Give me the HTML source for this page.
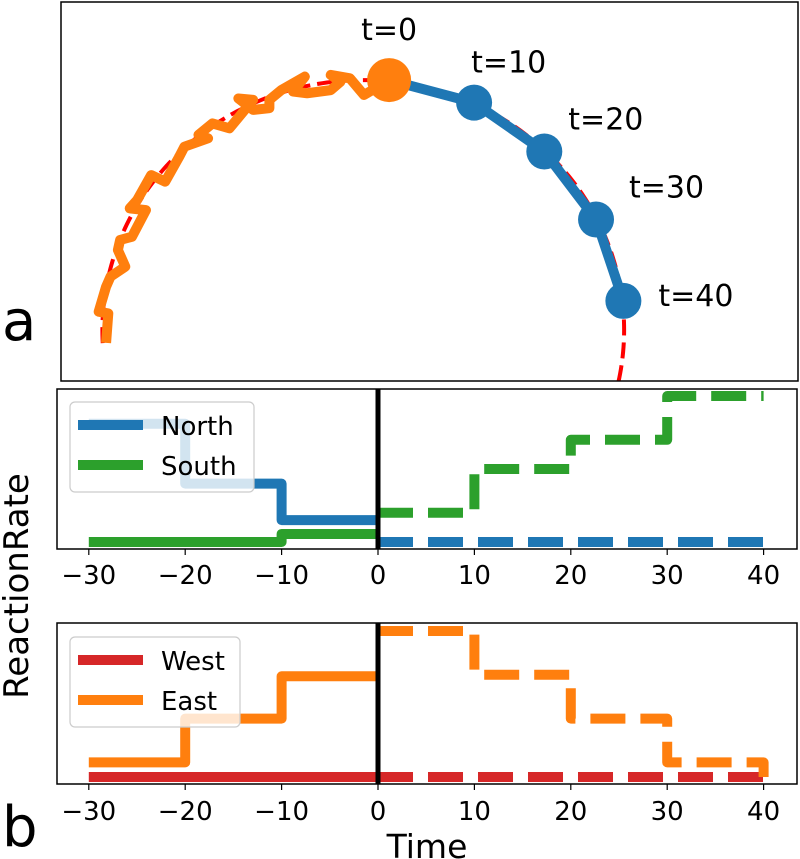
<!DOCTYPE html>
<html><head><meta charset="utf-8"><style>
html,body{margin:0;padding:0;background:#fff;}
svg{display:block;font-family:"DejaVu Sans","Liberation Sans",sans-serif;}
</style></head><body>
<svg id="fig" width="800" height="859" viewBox="0 0 800 859" xmlns="http://www.w3.org/2000/svg">
<defs>
<clipPath id="clipTop"><rect x="61" y="2" width="737" height="379"/></clipPath>
<clipPath id="clipMid"><rect x="57" y="389" width="740" height="160"/></clipPath>
<clipPath id="clipBot"><rect x="57" y="623" width="740" height="161"/></clipPath>
</defs>
<rect x="0" y="0" width="800" height="859" fill="#fff"/>
<g id="topPanel"></g>
<g id="midPanel"></g>
<g id="botPanel"></g>
<text x="2" y="340" font-size="56" fill="#000">a</text>
<text x="2" y="846" font-size="56" fill="#000">b</text>
<text x="427" y="858" font-size="33" text-anchor="middle" fill="#000">Time</text>
<text transform="translate(28,586) rotate(-90)" font-size="34" text-anchor="middle" fill="#000">ReactionRate</text>
</svg>
<script>
// ---- top panel data (arbitrary unit coords 0..100) ----
const orangeX = [44.4,41,39.1,36.5,37.8,36.5,33.3,31.4,33,29.8,28.2,28.2,26,24,26,22.8,20.5,18.6,19.9,16.7,16,14.1,12.2,10.3,9.3,11.5,9.6,8,7.7,8.7,6.7,6.1,5.1,6.4,6.1];
const orangeY = [76.9,72.6,77.4,78.4,76.4,74,73.1,73.6,77.9,74,71.2,68.8,68.3,71.6,71.2,63,64.4,61.1,60.1,57.7,54.8,47.6,49.5,42.3,39.9,39.4,31.7,30.8,27.9,23.1,20.2,17.3,10.1,9.6,1.1];
const blueX = [44.4,55.9,65.4,72.4,76.1];
const blueY = [76.9,70.4,56.3,36.7,13.2];
const blueLabels = ["t=0","t=10","t=20","t=30","t=40"];
const circleC = [40.9,4.8];
const circleR = [35.3,72.1];
const arcAngles = [183,-20];
// ---- step panels data ----
const tSolid = [-30,-20,-10,0];
const tDashed = [0,10,20,30,40];
const northSolid = [81,40,15,15];
const northDashed = [0,0,0,0,0];
const southSolid = [0,0,5.5,5.5];
const southDashed = [20,50,70,100,100];
const westSolid = [0,0,0,0];
const westDashed = [0,0,0,0,0];
const eastSolid = [10,40,69,69];
const eastDashed = [100,70,40,10,0];
const xTicks = [-30,-20,-10,0,10,20,30,40];
const xTickLabels = ["\u221230","\u221220","\u221210","0","10","20","30","40"];

const NS="http://www.w3.org/2000/svg";
function mk(tag, attrs, parent){const e=document.createElementNS(NS,tag);for(const k in attrs)e.setAttribute(k,attrs[k]);parent.appendChild(e);return e;}

const tx = v => 61 + v*7.39;
const ty = v => (100-v)*3.467;
const topG = document.getElementById('topPanel');
const gTop = mk('g',{'clip-path':'url(#clipTop)'},topG);
let arcPts=[];
for(let a=arcAngles[0]; a>=arcAngles[1]; a-=1){
  const r=a*Math.PI/180;
  arcPts.push(tx(circleC[0]+circleR[0]*Math.cos(r))+','+ty(circleC[1]+circleR[1]*Math.sin(r)));
}
const ell = mk('polyline',{points:arcPts.join(' '),fill:'none',stroke:'#ff0000','stroke-width':4,'stroke-dasharray':'16 7'},gTop);


const op = mk('polyline',{points:orangeX.map((v,i)=>tx(v)+','+ty(orangeY[i])).join(' '),fill:'none',stroke:'#ff7f0e','stroke-width':10,'stroke-linejoin':'round','stroke-linecap':'butt'},gTop);


const bp = mk('polyline',{points:blueX.map((v,i)=>tx(v)+','+ty(blueY[i])).join(' '),fill:'none',stroke:'#1f77b4','stroke-width':10,'stroke-linejoin':'round'},gTop);


const lblDx=[0,-3,24,33,35], lblDy=[-40,-30,-22,-22,5];
blueX.forEach((v,i)=>{
  const c = mk('circle',{cx:tx(v),cy:ty(blueY[i]),r:i===0?22:18,fill:i===0?'#ff7f0e':'#1f77b4'},gTop);
  
  
  const t = mk('text',{x:tx(v)+lblDx[i],y:ty(blueY[i])+lblDy[i],'font-size':30,'text-anchor':i===0?'middle':'start',fill:'#000'},topG);
  t.textContent=blueLabels[i];
  
  
});
const tb = mk('rect',{x:61,y:2,width:737,height:379,fill:'none',stroke:'#000','stroke-width':1.5},topG);



const sx = v => 378 + v*9.64;
function stepPts(ts, vs, sy){
  let p=[];
  for(let i=0;i<ts.length;i++){
    if(i>0) p.push([sx(ts[i]), sy(vs[i-1])]);
    p.push([sx(ts[i]), sy(vs[i])]);
  }
  return p.map(a=>a[0]+','+a[1]).join(' ');
}
function panel(g, clip, y0, y1, base, series, tickBase, lg){
  const sy = v => base - v*1.46;
  const cg = mk('g',{'clip-path':'url('+clip+')'},g);
  series.forEach(s=>{
    const a = mk('polyline',{points:stepPts(tSolid,s.solid,sy),fill:'none',stroke:s.color,'stroke-width':10,'stroke-linejoin':'round'},cg);
    
    
    const b = mk('polyline',{points:stepPts(tDashed,s.dashed,sy),fill:'none',stroke:s.color,'stroke-width':10,'stroke-dasharray':'35 15','stroke-linejoin':'round'},cg);
    
    
  });
  const vl = mk('line',{x1:sx(0),x2:sx(0),y1:y0,y2:y1,stroke:'#000','stroke-width':5},g);
  
  
  const lb = mk('rect',{x:70,y:lg.y,width:lg.w,height:90,rx:5,fill:'#fff','fill-opacity':0.8,stroke:'#ccc','stroke-width':1.2},g);
  
  
  series.forEach((s,i)=>{
    const yy = lg.y + 23 + i*40;
    const l = mk('line',{x1:78,x2:143,y1:yy,y2:yy,stroke:s.color,'stroke-width':10},g);
    
    
    const t = mk('text',{x:161,y:yy+10,'font-size':26,fill:'#000'},g);
    t.textContent=s.label;
    
    
  });
  const fr = mk('rect',{x:57,y:y0,width:740,height:y1-y0,fill:'none',stroke:'#000','stroke-width':1.5},g);
  
  
  xTicks.forEach((v,i)=>{
    const tk = mk('line',{x1:sx(v),x2:sx(v),y1:y1,y2:y1+6,stroke:'#000','stroke-width':1.2},g);
    
    
    const t = mk('text',{x:sx(v),y:tickBase,'font-size':26,'text-anchor':'middle',fill:'#000'},g);
    t.textContent=xTickLabels[i];
    
    
  });
}
panel(document.getElementById('midPanel'),'#clipMid',389,549,542,[
  {name:'north',label:'North',color:'#1f77b4',solid:northSolid,dashed:northDashed},
  {name:'south',label:'South',color:'#2ca02c',solid:southSolid,dashed:southDashed}
],584,{y:402,w:184});
panel(document.getElementById('botPanel'),'#clipBot',623,784,777,[
  {name:'west',label:'West',color:'#d62728',solid:westSolid,dashed:westDashed},
  {name:'east',label:'East',color:'#ff7f0e',solid:eastSolid,dashed:eastDashed}
],820,{y:637,w:170});
</script>
</body></html>
